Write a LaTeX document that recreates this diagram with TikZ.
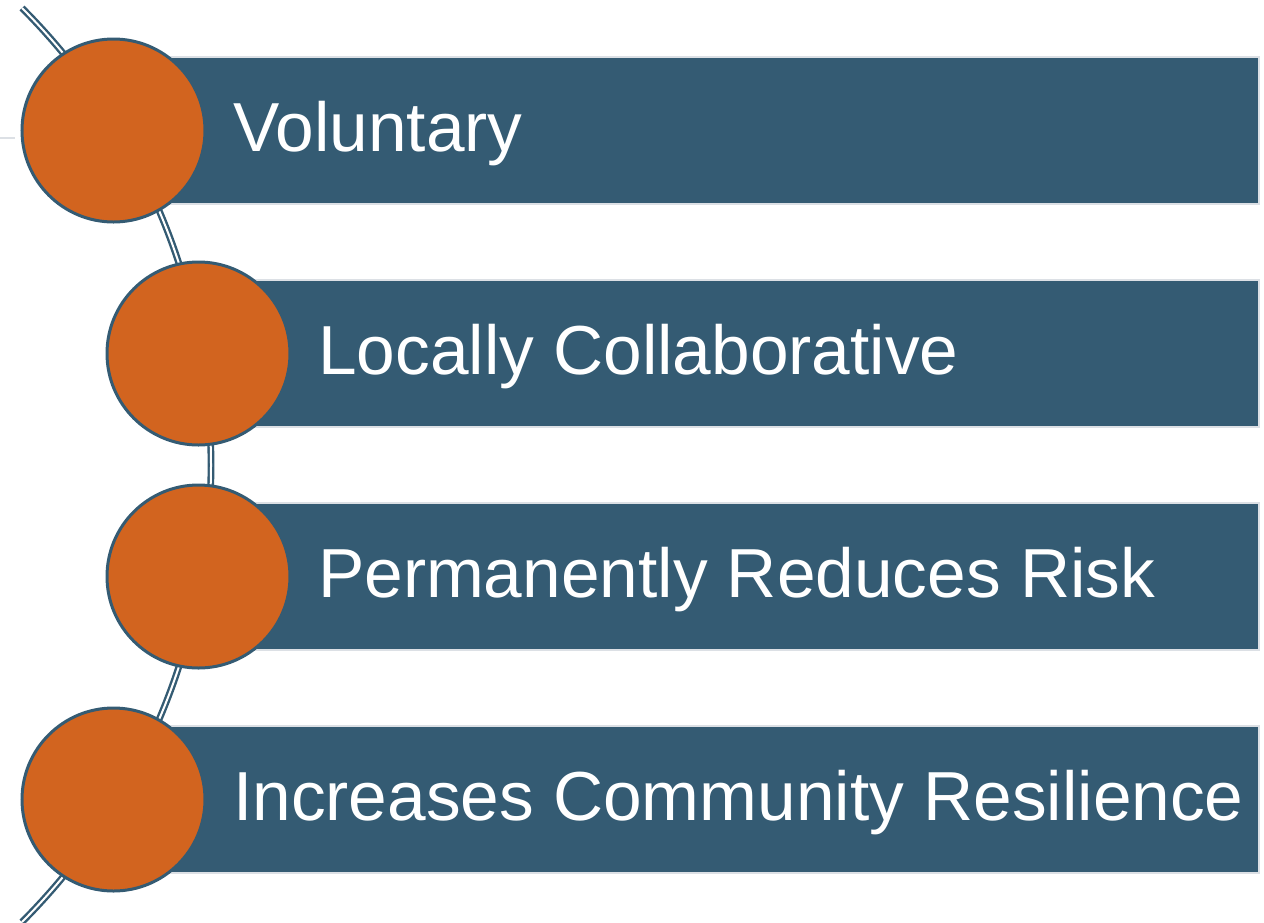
\documentclass[tikz,border=0pt]{standalone}
\usepackage{fontspec}
\setmainfont{Liberation Sans}
\definecolor{barblue}{HTML}{345B73}
\definecolor{dotorange}{HTML}{D2641F}
\definecolor{barrim}{HTML}{DCE0E5}
\begin{document}
\begin{tikzpicture}[x=1pt,y=1pt,
  bar/.style={fill=barblue,draw=barrim,line width=2.5pt},
  dot/.style={circle,fill=dotorange,draw=barblue,line width=3pt,minimum size=183pt,inner sep=0pt},
  label/.style={anchor=base west,inner sep=0pt,text=white,font=\fontsize{69.4}{80}\selectfont},
  spine/.style={draw=barblue,line width=2.4pt,double=white,double distance=2pt}]
\useasboundingbox (0,0) rectangle (1264,-922);
% curved spine running behind the dots
\coordinate (spinetop) at (22,-8);
\draw[spine] (spinetop) arc[start angle=44.94,end angle=-44.94,radius=647] coordinate (spinebottom);
% faint tick at the left edge
\draw[barrim,line width=2pt] (0,-138) -- (15,-138);
% bars
\draw[bar] (113,-57) rectangle (1259,-204);
\draw[bar] (198,-280) rectangle (1259,-427);
\draw[bar] (198,-503) rectangle (1259,-650);
\draw[bar] (113,-726) rectangle (1259,-873);
% dots
\node[dot] (d1) at (113.5,-130.5) {};
\node[dot] (d2) at (198.5,-353.5) {};
\node[dot] (d3) at (198.5,-576.5) {};
\node[dot] (d4) at (113.5,-799.5) {};
% labels
\node[label] (t1) at (233,-151) {Voluntary};
\node[label] (t2) at (318,-374) {Locally Collaborative};
\node[label] (t3) at (318,-597) {Permanently Reduces Risk};
\node[label] (t4) at (233,-820) {Increases Community Resilience};
\end{tikzpicture}
\end{document}
